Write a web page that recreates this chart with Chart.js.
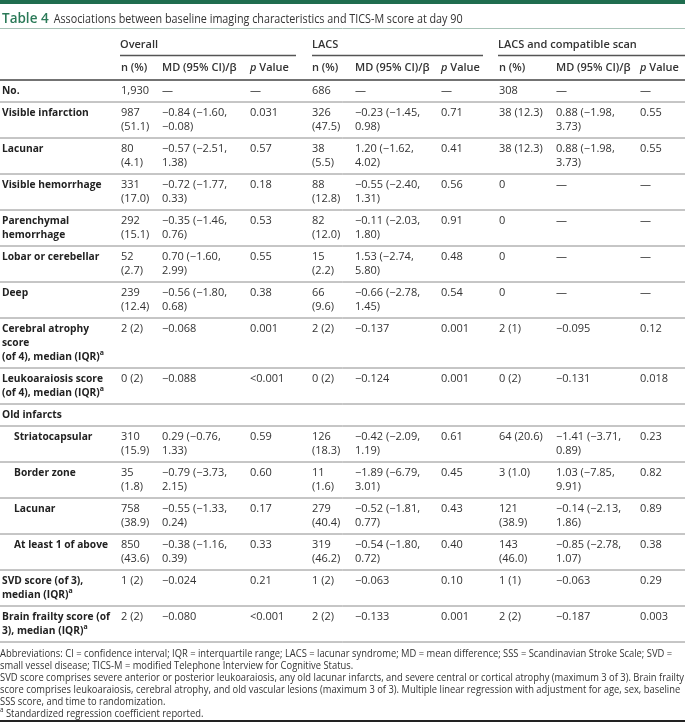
<!DOCTYPE html>
<html><head><meta charset="utf-8">
<script src="https://cdn.jsdelivr.net/npm/chart.js@4.4.1/dist/chart.umd.min.js"></script>
<style>html,body{margin:0;padding:0;background:#fff}canvas{display:block}</style>
</head><body>
<canvas id="c" width="685" height="724"></canvas>
<script>
// ---------- data ----------
const titleLabel = 'Table 4';
const titleText = 'Associations between baseline imaging characteristics and TICS-M score at day 90';
const groups = ['Overall', 'LACS', 'LACS and compatible scan'];
const subHeaders = ['n (%)', 'MD (95% CI)/β', '*p* Value'];
const rowLabels = ['No.', 'Visible infarction', 'Lacunar', 'Visible hemorrhage', 'Parenchymal\nhemorrhage',
  'Lobar or cerebellar', 'Deep', 'Cerebral atrophy\nscore\n(of 4), median (IQR)^a', 'Leukoaraiosis score\n(of 4), median (IQR)^a',
  'Old infarcts', 'Striatocapsular', 'Border zone', 'Lacunar', 'At least 1 of above',
  'SVD score (of 3),\nmedian (IQR)^a', 'Brain frailty score (of\n3), median (IQR)^a'];
const rowIndent = [0,0,0,0,0,0,0,0,0,0,1,1,1,1,0,0];
const overallN = ['1,930','987\n(51.1)','80\n(4.1)','331\n(17.0)','292\n(15.1)','52\n(2.7)','239\n(12.4)','2 (2)','0 (2)','','310\n(15.9)','35\n(1.8)','758\n(38.9)','850\n(43.6)','1 (2)','2 (2)'];
const overallMD = ['—','−0.84 (−1.60,\n−0.08)','−0.57 (−2.51,\n1.38)','−0.72 (−1.77,\n0.33)','−0.35 (−1.46,\n0.76)','0.70 (−1.60,\n2.99)','−0.56 (−1.80,\n0.68)','−0.068','−0.088','','0.29 (−0.76,\n1.33)','−0.79 (−3.73,\n2.15)','−0.55 (−1.33,\n0.24)','−0.38 (−1.16,\n0.39)','−0.024','−0.080'];
const overallP = ['—','0.031','0.57','0.18','0.53','0.55','0.38','0.001','<0.001','','0.59','0.60','0.17','0.33','0.21','<0.001'];
const lacsN = ['686','326\n(47.5)','38\n(5.5)','88\n(12.8)','82\n(12.0)','15\n(2.2)','66\n(9.6)','2 (2)','0 (2)','','126\n(18.3)','11\n(1.6)','279\n(40.4)','319\n(46.2)','1 (2)','2 (2)'];
const lacsMD = ['—','−0.23 (−1.45,\n0.98)','1.20 (−1.62,\n4.02)','−0.55 (−2.40,\n1.31)','−0.11 (−2.03,\n1.80)','1.53 (−2.74,\n5.80)','−0.66 (−2.78,\n1.45)','−0.137','−0.124','','−0.42 (−2.09,\n1.19)','−1.89 (−6.79,\n3.01)','−0.52 (−1.81,\n0.77)','−0.54 (−1.80,\n0.72)','−0.063','−0.133'];
const lacsP = ['—','0.71','0.41','0.56','0.91','0.48','0.54','0.001','0.001','','0.61','0.45','0.43','0.40','0.10','0.001'];
const compN = ['308','38 (12.3)','38 (12.3)','0','0','0','0','2 (1)','0 (2)','','64 (20.6)','3 (1.0)','121\n(38.9)','143\n(46.0)','1 (1)','2 (2)'];
const compMD = ['—','0.88 (−1.98,\n3.73)','0.88 (−1.98,\n3.73)','—','—','—','—','−0.095','−0.131','','−1.41 (−3.71,\n0.89)','1.03 (−7.85,\n9.91)','−0.14 (−2.13,\n1.86)','−0.85 (−2.78,\n1.07)','−0.063','−0.187'];
const compP = ['—','0.55','0.55','—','—','—','—','0.12','0.018','','0.23','0.82','0.89','0.38','0.29','0.003'];
const footnotes = [
  'Abbreviations: CI = confidence interval; IQR = interquartile range; LACS = lacunar syndrome; MD = mean difference; SSS = Scandinavian Stroke Scale; SVD =',
  'small vessel disease; TICS-M = modified Telephone Interview for Cognitive Status.',
  'SVD score comprises severe anterior or posterior leukoaraiosis, any old lacunar infarcts, and severe central or cortical atrophy (maximum 3 of 3). Brain frailty',
  'score comprises leukoaraiosis, cerebral atrophy, and old vascular lesions (maximum 3 of 3). Multiple linear regression with adjustment for age, sex, baseline',
  'SSS score, and time to randomization.',
  '^a Standardized regression coefficient reported.'
];

// ---------- layout (styling, not data) ----------
const L = {
  W: 685, H: 724,
  fontFamily: '"Open Sans", "Noto Sans", sans-serif',
  bodySize: 11, lineH: 14, rowPad: 8,
  labelX: 2, indent: 12, labelMaxW: 108,
  colX: [121, 162, 250, 312, 355, 441, 499, 556, 640],
  groupX: [[120, 296], [312, 483], [498, 685]],
  titleY: 19, titleRuleY: 28.5, groupY: 45, groupRuleY: 55.5, subY: 68, headRuleY: 80,
  footStartY: 654, footLineH: 12, footSize: 10, bottomRuleY: 721,
  green: '#1f6d4f', titleGreen: '#2b7a58', text: '#333333', label: '#222222'
};

function drawRich(ctx, str, x, y, size, weight, color, sx) {
  sx = sx || 1;
  const parts = str.split(/(\*[^*]+\*|\^[a-z])/).filter(s => s);
  let cx = x;
  for (const p of parts) {
    let txt = p, dy = 0, sz = size, style = '';
    if (p.startsWith('*')) { txt = p.slice(1, -1); style = 'italic '; }
    else if (p.startsWith('^')) { txt = p.slice(1); sz = size * 0.68; dy = -size * 0.38; }
    ctx.font = `${style}${weight} ${sz}px ${L.fontFamily}`;
    ctx.fillStyle = color;
    ctx.textBaseline = 'middle';
    ctx.textAlign = 'left';
    ctx.save(); ctx.translate(cx, y + dy); ctx.scale(sx, 1); ctx.fillText(txt, 0, 0); ctx.restore();
    cx += ctx.measureText(txt).width * sx;
  }
  return cx;
}
function richWidth(ctx, str, size, weight) {
  const parts = str.split(/(\*[^*]+\*|\^[a-z])/).filter(s => s);
  let w = 0;
  for (const p of parts) {
    let txt = p, sz = size, style = '';
    if (p.startsWith('*')) { txt = p.slice(1, -1); style = 'italic '; }
    else if (p.startsWith('^')) { txt = p.slice(1); sz = size * 0.68; }
    ctx.font = `${style}${weight} ${sz}px ${L.fontFamily}`;
    w += ctx.measureText(txt).width;
  }
  return w;
}
function hline(ctx, x1, x2, y, color, width) {
  ctx.save(); ctx.strokeStyle = color; ctx.lineWidth = width;
  ctx.beginPath(); ctx.moveTo(x1, y); ctx.lineTo(x2, y); ctx.stroke(); ctx.restore();
}

const columns = [overallN, overallMD, overallP, lacsN, lacsMD, lacsP, compN, compMD, compP];

const tablePlugin = {
  id: 'tableDraw',
  afterDraw(chart) {
    const { ctx, scales: { x, y } } = chart;
    const X = v => x.getPixelForValue(v), Y = v => y.getPixelForValue(v);
    ctx.save();
    // top green band
    ctx.fillStyle = L.green;
    ctx.fillRect(X(0), Y(0), X(L.W) - X(0), Y(4) - Y(0));
    // title
    const tx = drawRich(ctx, titleLabel, X(2), Y(L.titleY), 13.5, 600, L.titleGreen);
    ctx.font = `400 13px ${L.fontFamily}`;
    const tw = ctx.measureText(titleText).width;
    const tsx = Math.min(1, (X(457) - X(48)) / tw);
    drawRich(ctx, titleText, tx + 5, Y(L.titleY), 13, 400, L.text, tsx);
    hline(ctx, X(0), X(L.W), Y(L.titleRuleY), '#a7c2b6', 1);
    // group headers
    groups.forEach((g, i) => {
      drawRich(ctx, g, X(L.groupX[i][0]), Y(L.groupY), L.bodySize, 600, L.text);
      hline(ctx, X(L.groupX[i][0]), X(L.groupX[i][1]), Y(L.groupRuleY), '#555', 1.5);
    });
    // sub headers
    L.colX.forEach((cx, i) => {
      drawRich(ctx, subHeaders[i % 3], X(cx), Y(L.subY), L.bodySize, 600, L.text);
    });
    hline(ctx, X(0), X(L.W), Y(L.headRuleY), '#444', 1.5);
    // label compression so the widest label line fits its column
    let maxLab = 0;
    rowLabels.forEach((lab, r) => lab.split('\n').forEach(ln => {
      maxLab = Math.max(maxLab, richWidth(ctx, ln, L.bodySize, 700) + rowIndent[r] * L.indent);
    }));
    const lsx = Math.min(1, L.labelMaxW / maxLab);
    // body rows
    let top = L.headRuleY;
    rowLabels.forEach((lab, r) => {
      const cells = columns.map(c => c[r]);
      const nLines = Math.max(lab.split('\n').length, ...cells.map(c => c.split('\n').length));
      const first = top + L.rowPad / 2 + L.lineH / 2;
      lab.split('\n').forEach((ln, k) => {
        drawRich(ctx, ln, X(L.labelX + rowIndent[r] * L.indent), Y(first + k * L.lineH), L.bodySize, 700, L.label, lsx);
      });
      cells.forEach((c, ci) => {
        c.split('\n').forEach((ln, k) => {
          if (ln) drawRich(ctx, ln, X(L.colX[ci]), Y(first + k * L.lineH), L.bodySize, 400, L.text);
        });
      });
      top += nLines * L.lineH + L.rowPad;
      hline(ctx, X(0), X(L.W), Y(top), '#8c8c8c', 1);
    });
    // footnotes
    let maxW = 0;
    footnotes.forEach(f => { maxW = Math.max(maxW, richWidth(ctx, f, L.footSize, 400)); });
    const fsx = Math.min(1, (X(684) - X(0)) / maxW);
    footnotes.forEach((f, i) => {
      drawRich(ctx, f, X(0), Y(L.footStartY + i * L.footLineH), L.footSize, 400, L.text, fsx);
    });
    hline(ctx, X(0), X(L.W), Y(L.bottomRuleY), '#222', 2);
    ctx.restore();
  }
};

function build() {
  new Chart(document.getElementById('c'), {
    type: 'scatter',
    data: { datasets: [] },
    options: {
      responsive: false, animation: false, events: [],
      layout: { padding: 0 },
      plugins: { legend: { display: false }, tooltip: { enabled: false } },
      scales: {
        x: { type: 'linear', min: 0, max: L.W, display: false },
        y: { type: 'linear', min: 0, max: L.H, reverse: true, display: false }
      }
    },
    plugins: [tablePlugin]
  });
}
const fontLoads = ['400 11px "Open Sans"', '600 11px "Open Sans"', '700 11px "Open Sans"', 'italic 600 11px "Open Sans"']
  .map(f => document.fonts.load(f).catch(() => null));
Promise.race([Promise.all(fontLoads), new Promise(r => setTimeout(r, 800))]).then(build);
</script>
</body></html>
